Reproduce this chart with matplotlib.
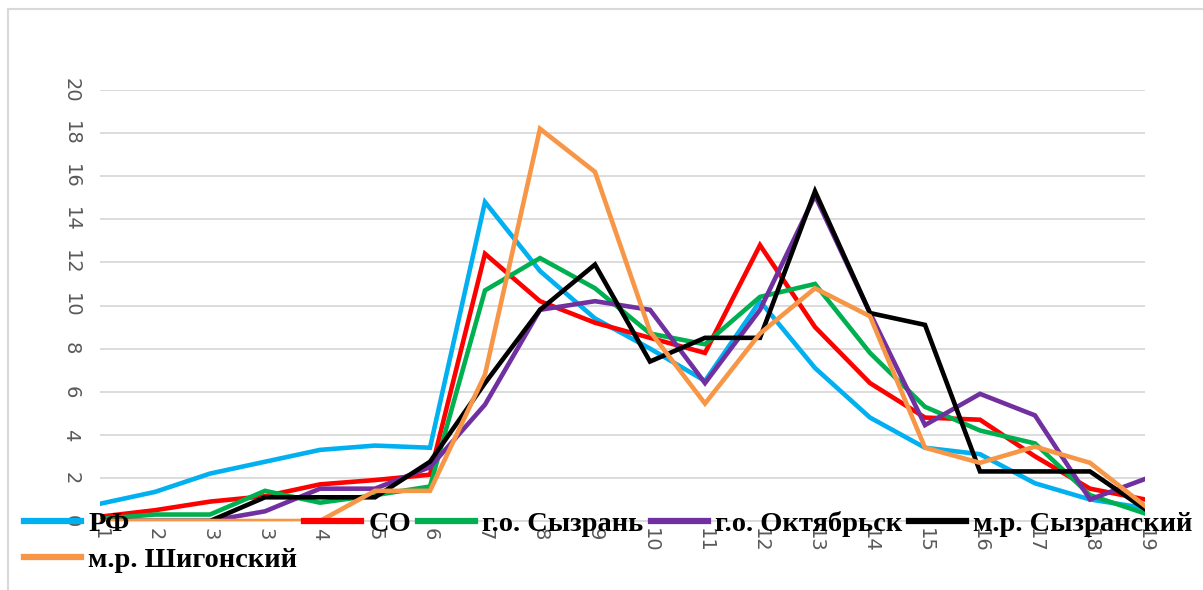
import matplotlib.pyplot as plt
from matplotlib.lines import Line2D
from matplotlib.patches import Rectangle

# подписи по оси X (как в исходной таблице, "3" повторяется)
x_labels = ["1", "2", "3", "3", "4", "5", "6", "7", "8", "9", "10",
            "11", "12", "13", "14", "15", "16", "17", "18", "19"]

rf = [0.8, 1.35, 2.2, 2.75, 3.3, 3.5, 3.4, 14.8, 11.6, 9.4, 8.0,
      6.5, 10.2, 7.1, 4.8, 3.4, 3.1, 1.75, 1.0, 0.6]
so = [0.2, 0.5, 0.9, 1.15, 1.7, 1.9, 2.15, 12.4, 10.2, 9.2, 8.5,
      7.8, 12.8, 9.0, 6.4, 4.8, 4.7, 3.0, 1.5, 1.0]
syzran = [0.1, 0.3, 0.3, 1.4, 0.85, 1.2, 1.6, 10.7, 12.2, 10.8, 8.7,
          8.2, 10.4, 11.0, 7.8, 5.3, 4.2, 3.6, 1.2, 0.35]
oktyabrsk = [0, 0, 0, 0.45, 1.5, 1.5, 2.5, 5.4, 9.8, 10.2, 9.8,
             6.4, 9.8, 15.1, 9.65, 4.45, 5.9, 4.9, 1.0, 1.95]
syzran_mr = [0, 0, 0, 1.1, 1.1, 1.1, 2.75, 6.4, 9.8, 11.9, 7.4,
             8.5, 8.5, 15.3, 9.65, 9.1, 2.3, 2.3, 2.3, 0.55]
shigony = [0, 0, 0, 0, 0, 1.4, 1.4, 6.8, 18.2, 16.2, 8.8,
           5.45, 8.7, 10.8, 9.5, 3.4, 2.7, 3.45, 2.7, 0.7]

names = ["РФ", "СО", "г.о. Сызрань", "г.о. Октябрьск", "м.р. Сызранский", "м.р. Шигонский"]
colors = ["#00B0F0", "#FF0000", "#00B050", "#7030A0", "#000000", "#F79646"]
series = [rf, so, syzran, oktyabrsk, syzran_mr, shigony]

fig = plt.figure(figsize=(12.03, 5.90), dpi=100)
ax = fig.add_axes([100 / 1203, 1 - 521 / 590, 1045 / 1203, 431 / 590])

x = list(range(len(x_labels)))
for vals, c in zip(series, colors):
    ax.plot(x, vals, color=c, lw=3.3, solid_joinstyle="miter", zorder=3)

ax.set_xlim(0, 19)
ax.set_ylim(0, 20)
ax.set_yticks(range(0, 21, 2))
ax.set_xticks(x)
ax.set_xticklabels(x_labels)
ax.tick_params(axis="both", length=0, labelsize=14, labelcolor="#595959")
ax.tick_params(axis="x", labelrotation=-90, pad=5)
ax.tick_params(axis="y", pad=14)
for lab in ax.get_yticklabels():
    lab.set_rotation(-90)
    lab.set_va("center")

ax.grid(axis="y", color="#D9D9D9", lw=1.3)
ax.set_axisbelow(True)
for s in ["top", "right", "left"]:
    ax.spines[s].set_visible(False)
ax.spines["bottom"].set_color("#D9D9D9")
ax.spines["bottom"].set_linewidth(1.3)

# рамка диаграммы
fig.patches.append(Rectangle((8 / 1203, -0.1), 1.2, 1 - 9 / 590 + 0.1,
                             transform=fig.transFigure, fill=False,
                             ec="#D9D9D9", lw=1.5))

# порядок подобран так, чтобы "м.р. Шигонский" оказался под "РФ"
order = [0, 5, 1, 2, 3, 4]
handles = [Line2D([], [], color=colors[i], lw=4.5) for i in order]
labels = [names[i] for i in order]
fig.legend(handles, labels, ncol=5, loc="upper left",
           bbox_to_anchor=(10 / 1203, 1 - 497 / 590), frameon=False,
           borderpad=0, handlelength=2.0, handletextpad=0.25,
           columnspacing=0.25, labelspacing=0.33,
           prop={"family": "Liberation Serif", "weight": "bold", "size": 20.5})

fig.savefig("out.png", dpi=100)
